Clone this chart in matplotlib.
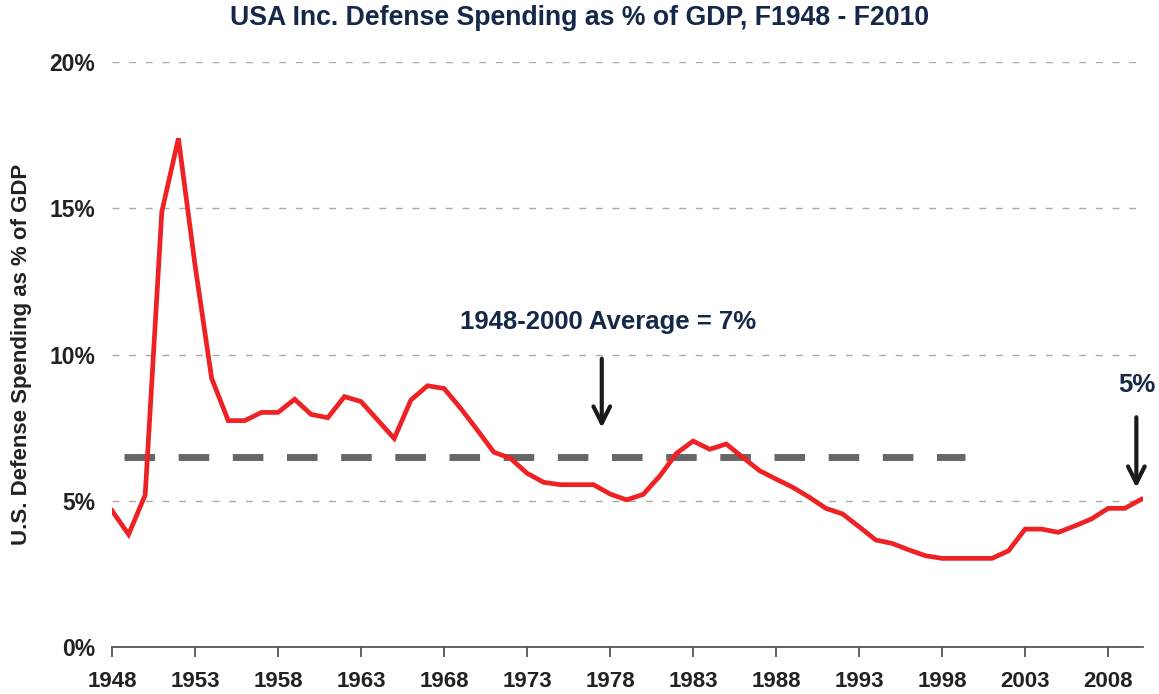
import numpy as np
import matplotlib
matplotlib.use('Agg')
import matplotlib.pyplot as plt

plt.rcParams['font.family'] = ['Liberation Sans', 'DejaVu Sans']

# 국방비 지출 (GDP 대비 %), 그림에서 읽은 값
years = list(range(1948, 2011))
spending = [4.66, 3.85, 5.2, 14.88, 17.39, 13.06, 9.19, 7.74, 7.74, 8.02,
            8.02, 8.47, 7.95, 7.84, 8.56, 8.39, 7.76, 7.13, 8.44, 8.93,
            8.84, 8.16, 7.42, 6.66, 6.45, 5.94, 5.63, 5.55, 5.55, 5.55,
            5.23, 5.03, 5.22, 5.85, 6.62, 7.04, 6.76, 6.94, 6.48, 6.03,
            5.74, 5.46, 5.12, 4.74, 4.55, 4.11, 3.66, 3.54, 3.32, 3.12,
            3.03, 3.03, 3.03, 3.03, 3.29, 4.03, 4.03, 3.92, 4.14, 4.38,
            4.74, 4.74, 5.05]
avg_value = 6.51
avg_span = [1948.7, 1999.4]
xticks = list(range(1948, 2011, 5))
yticks = [0, 5, 10, 15, 20]

navy = '#16284a'
dark = '#222222'

fig = plt.figure(figsize=(11.59, 6.94), dpi=100)
ax = fig.add_axes([112/1159, 47/694, (1143-112)/1159, (647-62)/694])

for yv in yticks[1:]:
    ax.axhline(yv, color='#aaaaaa', lw=1, ls=(0, (5, 7)), zorder=1)

ax.plot(avg_span, [avg_value, avg_value], color='#666666', lw=5,
        ls=(0, (4.4, 3.4)), zorder=2)
ax.plot(years, spending, color='#ee2224', lw=3.4, zorder=3,
        solid_joinstyle='miter')

ax.set_xlim(1948, 2010.1)
ax.set_ylim(0, 20)
ax.set_xticks(xticks)
ax.set_xticklabels([str(y) for y in xticks])
ax.set_yticks(yticks)
ax.set_yticklabels(['%d%%' % v for v in yticks])

for s in ['top', 'right', 'left']:
    ax.spines[s].set_visible(False)
ax.spines['bottom'].set_color('#555555')
ax.spines['bottom'].set_linewidth(1.3)
ax.tick_params(axis='x', length=7, width=1.3, color='#555555', pad=10,
               labelsize=16, labelcolor=dark)
ax.tick_params(axis='y', length=0, pad=12, labelsize=16.5, labelcolor=dark)
for lab in ax.get_xticklabels() + ax.get_yticklabels():
    lab.set_fontweight('bold')

ax.set_ylabel('U.S. Defense Spending as % of GDP', fontsize=16,
              fontweight='bold', color=dark)
ax.yaxis.set_label_coords(-0.078, 0.5)

fig.text(0.5, 1 - 18/694, 'USA Inc. Defense Spending as % of GDP, F1948 - F2010',
         ha='center', va='center', fontsize=19.2, fontweight='bold', color=navy)

ax.annotate('', xy=(1977.5, 7.4), xytext=(1977.5, 9.95),
            arrowprops=dict(arrowstyle='->', color='#1a1a1a', lw=3,
                            mutation_scale=30), zorder=4)
ax.text(1977.9, 11.1, '1948-2000 Average = 7%', ha='center', va='center',
        fontsize=18.5, fontweight='bold', color=navy)

ax.annotate('', xy=(2009.7, 5.35), xytext=(2009.7, 7.95),
            arrowprops=dict(arrowstyle='->', color='#1a1a1a', lw=3,
                            mutation_scale=30), zorder=4, annotation_clip=False)
ax.text(2009.7, 8.95, '5%', ha='center', va='center', fontsize=18.5,
        fontweight='bold', color=navy)

fig.savefig('out.png', dpi=100)
